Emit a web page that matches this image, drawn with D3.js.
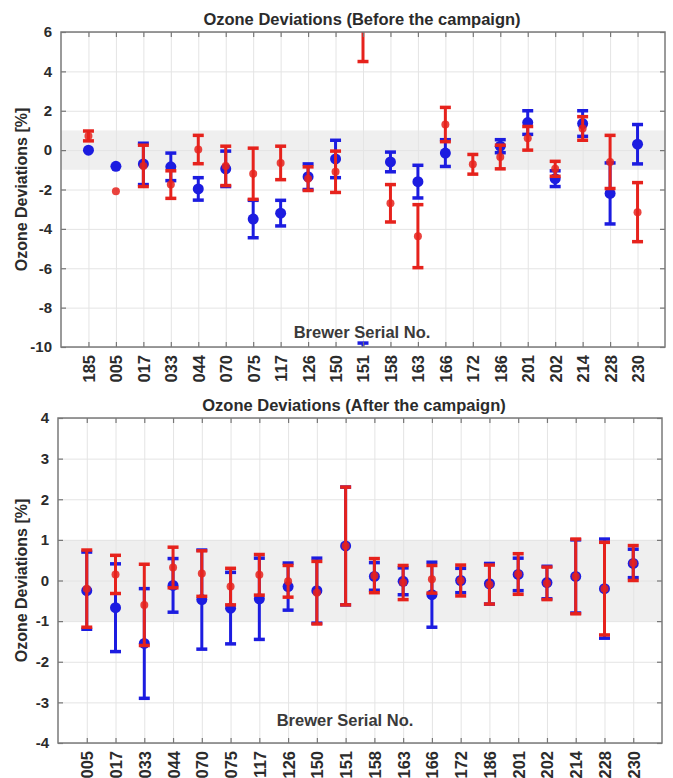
<!DOCTYPE html>
<html>
<head>
<meta charset="utf-8">
<script src="https://cdn.jsdelivr.net/npm/d3@7"></script>
<style>
  body { margin: 0; background: #fff; }
  svg { display: block; font-family: "Liberation Sans", Arial, sans-serif; }
</style>
</head>
<body>
<div id="chart"></div>
<script>
// Brewer serials + deviations (%)
var beforeSerials = ["185","005","017","033","044","070","075","117","126","150","151","158","163","166","172","186","201","202","214","228","230"]
var beforeBlue    = [0.0, -0.82, -0.7, -0.85, -1.97, -0.95, -3.5, -3.2, -1.35, -0.45, -10.3, -0.6, -1.6, -0.15, null, 0.2, 1.4, -1.45, 1.35, -2.2, 0.3]
var beforeBlueErr = [null, null, 1.05, 0.7, 0.57, 0.9, 0.95, 0.65, 0.65, 0.95, 0.5, 0.5, 0.83, 0.68, null, 0.33, 0.6, 0.4, 0.65, 1.55, 1.0]
var beforeRed     = [0.72, -2.09, -0.8, -1.75, 0.03, -0.8, -1.2, -0.65, -1.45, -1.1, 7.0, -2.7, -4.37, 1.3, -0.72, -0.35, 0.6, -0.95, 1.1, -0.6, -3.15]
var beforeRedErr  = [0.25, null, 1.05, 0.7, 0.72, 1.0, 1.3, 0.85, 0.6, 1.05, 2.5, 0.95, 1.6, 0.87, 0.5, 0.6, 0.6, 0.38, 0.6, 1.35, 1.5]

var afterSerials = ["005","017","033","044","070","075","117","126","150","151","158","163","166","172","186","201","202","214","228","230"]
var afterBlue    = [-0.25, -0.67, -1.55, -0.12, -0.47, -0.68, -0.45, -0.15, -0.25, 0.85, 0.1, -0.02, -0.35, 0.0, -0.08, 0.15, -0.05, 0.1, -0.2, 0.42]
var afterBlueErr = [0.95, 1.08, 1.35, 0.66, 1.22, 0.88, 1.0, 0.58, 0.8, 1.45, 0.34, 0.33, 0.8, 0.3, 0.5, 0.4, 0.4, 0.9, 1.22, 0.35]
var afterRed     = [-0.2, 0.15, -0.6, 0.32, 0.17, -0.15, 0.14, -0.02, -0.3, 0.85, 0.12, -0.05, 0.03, 0.0, -0.1, 0.16, -0.07, 0.1, -0.2, 0.43]
var afterRedErr  = [0.95, 0.47, 1.0, 0.5, 0.56, 0.45, 0.5, 0.39, 0.77, 1.45, 0.42, 0.42, 0.34, 0.38, 0.48, 0.5, 0.4, 0.92, 1.14, 0.43]

var beforeYTicks = [-10, -8, -6, -4, -2, 0, 2, 4, 6]
var afterYTicks = [-4, -3, -2, -1, 0, 1, 2, 3, 4]

var blue = "#1c1ce0"
var red = "#e6221c"
var textCol = "#2b2b2b"
var fontFam = "'Liberation Sans', Arial, sans-serif"

var svg = d3.select("#chart").append("svg")
    .attr("width", 673)
    .attr("height", 778)

function drawPanel(p){
    var n = p.serials.length
    var x = d3.scaleLinear().domain([0, n + 1]).range([p.left, p.right])
    var y = d3.scaleLinear().domain([p.yTicks[0], p.yTicks[p.yTicks.length-1]]).range([p.bottom, p.top])
    var w = p.right - p.left, h = p.bottom - p.top
    var idx = d3.range(1, n + 1)

    var g = svg.append("g")

    // shaded +-1% band
    g.append("rect")
        .attr("x", p.left).attr("y", y(1))
        .attr("width", w).attr("height", y(-1) - y(1))
        .style("fill", "#efefef")

    // grid
    g.append("g")
        .attr("transform", "translate(0," + p.bottom + ")")
        .call(d3.axisBottom(x).tickValues(idx).tickSize(-h).tickFormat(""))
        .call(s => s.select(".domain").remove())
        .selectAll("line").style("stroke", "#e4e4e4")
    g.append("g")
        .attr("transform", "translate(" + p.left + ",0)")
        .call(d3.axisLeft(y).tickValues(p.yTicks).tickSize(-w).tickFormat(""))
        .call(s => s.select(".domain").remove())
        .selectAll("line").style("stroke", "#e4e4e4")

    // clip for the marks
    g.append("clipPath").attr("id", p.id + "clip")
        .append("rect").attr("x", p.left).attr("y", p.top).attr("width", w).attr("height", h)
    var marks = g.append("g").attr("clip-path", "url(#" + p.id + "clip)")

    var series = [
        {vals: p.blue, errs: p.blueErr, color: blue, r: 5.5, op: 1},
        {vals: p.red, errs: p.redErr, color: red, r: 4, op: 0.85}
    ]
    series.forEach(function(s){
        var pts = idx.map(function(i){ return {i: i, v: s.vals[i-1], e: s.errs[i-1]} })
            .filter(function(d){ return d.v !== null })
        var eb = pts.filter(function(d){ return d.e !== null })
        var sg = marks.append("g")
        sg.selectAll(".bar").data(eb).enter().append("line")
            .attr("x1", d => x(d.i)).attr("x2", d => x(d.i))
            .attr("y1", d => y(d.v + d.e)).attr("y2", d => y(d.v - d.e))
            .style("stroke", s.color).style("stroke-width", 3)
        ;[1, -1].forEach(function(sign){
            sg.selectAll(".cap" + sign).data(eb).enter().append("line")
                .attr("x1", d => x(d.i) - 5.5).attr("x2", d => x(d.i) + 5.5)
                .attr("y1", d => y(d.v + sign * d.e)).attr("y2", d => y(d.v + sign * d.e))
                .style("stroke", s.color).style("stroke-width", 3.5)
        })
        sg.selectAll("circle").data(pts).enter().append("circle")
            .attr("cx", d => x(d.i)).attr("cy", d => y(d.v))
            .attr("r", s.r)
            .style("fill", s.color).style("opacity", s.op)
    })

    // inward ticks on all four sides + box
    var tickStyle = function(s){
        s.select(".domain").remove()
        s.selectAll("line").style("stroke", "#777").style("stroke-width", 1.2)
    }
    var xb = g.append("g").attr("transform", "translate(0," + p.bottom + ")")
        .call(d3.axisBottom(x).tickValues(idx).tickSize(-5).tickFormat(i => p.serials[i-1]))
        .call(tickStyle)
    xb.selectAll("text")
        .attr("y", 0).attr("x", -8).attr("dy", "0.36em")
        .attr("transform", "rotate(-90)")
        .style("text-anchor", "end")
        .style("font-size", "16.5px").style("font-weight", "bold").style("fill", textCol)
        .style("font-family", fontFam)
    g.append("g").attr("transform", "translate(0," + p.top + ")")
        .call(d3.axisTop(x).tickValues(idx).tickSize(-5).tickFormat(""))
        .call(tickStyle)
    var yl = g.append("g").attr("transform", "translate(" + p.left + ",0)")
        .call(d3.axisLeft(y).tickValues(p.yTicks).tickSize(-5).tickPadding(9).tickFormat(v => String(v)))
        .call(tickStyle)
    yl.selectAll("text")
        .style("font-size", "15px").style("font-weight", "bold").style("fill", textCol)
        .style("font-family", fontFam)
    g.append("g").attr("transform", "translate(" + p.right + ",0)")
        .call(d3.axisRight(y).tickValues(p.yTicks).tickSize(-5).tickFormat(""))
        .call(tickStyle)

    g.append("rect")
        .attr("x", p.left).attr("y", p.top).attr("width", w).attr("height", h)
        .style("fill", "none").style("stroke", "#7a7a7a").style("stroke-width", 1.5)

    // texts
    g.append("text")
        .attr("x", p.titleX).attr("y", p.top - 7)
        .attr("text-anchor", "middle")
        .text(p.title)
        .style("font-size", "16.5px").style("font-weight", "bold").style("fill", textCol)
    g.append("text")
        .attr("transform", "translate(21," + (p.top + h/2) + ") rotate(-90)")
        .attr("text-anchor", "middle").attr("dy", "0.35em")
        .text("Ozone Deviations [%]")
        .style("font-size", "16px").style("font-weight", "bold").style("fill", textCol)
    g.append("text")
        .attr("x", p.labelX).attr("y", p.bottom - p.labelDy)
        .attr("text-anchor", "middle")
        .text("Brewer Serial No.")
        .style("font-size", "16.5px").style("font-weight", "bold").style("fill", "#3a3a3a")
}

drawPanel({id: "before", serials: beforeSerials, blue: beforeBlue, blueErr: beforeBlueErr,
    red: beforeRed, redErr: beforeRedErr, yTicks: beforeYTicks,
    left: 61, right: 665, top: 32, bottom: 347, titleX: 362, labelX: 362, labelDy: 9,
    title: "Ozone Deviations (Before the campaign)"})

drawPanel({id: "after", serials: afterSerials, blue: afterBlue, blueErr: afterBlueErr,
    red: afterRed, redErr: afterRedErr, yTicks: afterYTicks,
    left: 58, right: 662, top: 418, bottom: 743, titleX: 354, labelX: 345, labelDy: 17,
    title: "Ozone Deviations (After the campaign)"})
</script>
</body>
</html>
